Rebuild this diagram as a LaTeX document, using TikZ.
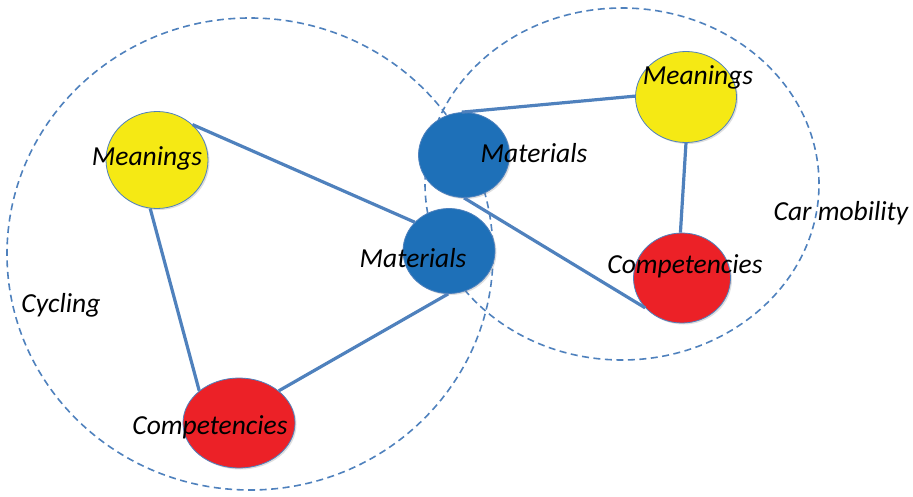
\documentclass[tikz,border=0pt]{standalone}
\usepackage{fontspec}
\setmainfont{Carlito}
\usetikzlibrary{shapes.geometric,shadows}
\definecolor{lineblue}{RGB}{79,129,189}
\definecolor{nodeyellow}{RGB}{245,233,20}
\definecolor{nodered}{RGB}{236,33,39}
\definecolor{nodeblue}{RGB}{30,112,184}
\tikzset{
  group/.style={draw=lineblue, line width=1.6pt, dash pattern=on 7pt off 4.5pt},
  blob/.style={ellipse, draw=lineblue, line width=0.8pt, inner sep=0pt,
    drop shadow={opacity=0.25, shadow xshift=1.5pt, shadow yshift=-1.5pt}},
  mean/.style={blob, fill=nodeyellow},
  comp/.style={blob, fill=nodered},
  mat/.style={blob, fill=nodeblue},
  link/.style={draw=lineblue, line width=3.2pt},
  lbl/.style={font=\fontsize{27.5}{32}\selectfont\itshape, text=black, inner sep=0pt}
}
\begin{document}
\begin{tikzpicture}[x=1pt,y=-1pt]
\useasboundingbox (0,0) rectangle (913,497);
% group outlines
\node[group, ellipse, minimum width=486pt, minimum height=472pt, inner sep=0pt] (cyc) at (250,254) {};
\node[group, ellipse, minimum width=394pt, minimum height=352pt, inner sep=0pt] (car) at (622,184) {};
% nodes
\node[mean, minimum width=102pt, minimum height=97pt] (mL) at (157,160) {};
\node[mat, minimum width=92pt, minimum height=85pt] (tL) at (449,251) {};
\node[comp, minimum width=112pt, minimum height=90pt] (cL) at (239,423) {};
\node[mat, minimum width=91pt, minimum height=85pt] (tR) at (464,155) {};
\node[mean, minimum width=101pt, minimum height=91pt] (mR) at (686,97) {};
\node[comp, minimum width=97pt, minimum height=90pt] (cR) at (682,278) {};
% connectors
\draw[link] (mL.45) -- (tL.140);
\draw[link] (mL.-98) -- (cL.141);
\draw[link] (cL.39) -- (tL.-91);
\draw[link] (tR.93) -- (mR.179);
\draw[link] (mR.-90) -- (cR.92);
\draw[link] (tR.-90) -- (cR.219);
% labels
\node[lbl] (lmL) at (147,158) {Meanings};
\node[lbl] (ltL) at (413,258) {Materials};
\node[lbl] (lcL) at (210,427) {Competencies};
\node[lbl] (ltR) at (534,153) {Materials};
\node[lbl] (lmR) at (698,77) {Meanings};
\node[lbl] (lcR) at (685,266) {Competencies};
\node[lbl] (lcar) at (841,213) {Car mobility};
\node[lbl] (lcyc) at (61,305) {Cycling};
\end{tikzpicture}
\end{document}
